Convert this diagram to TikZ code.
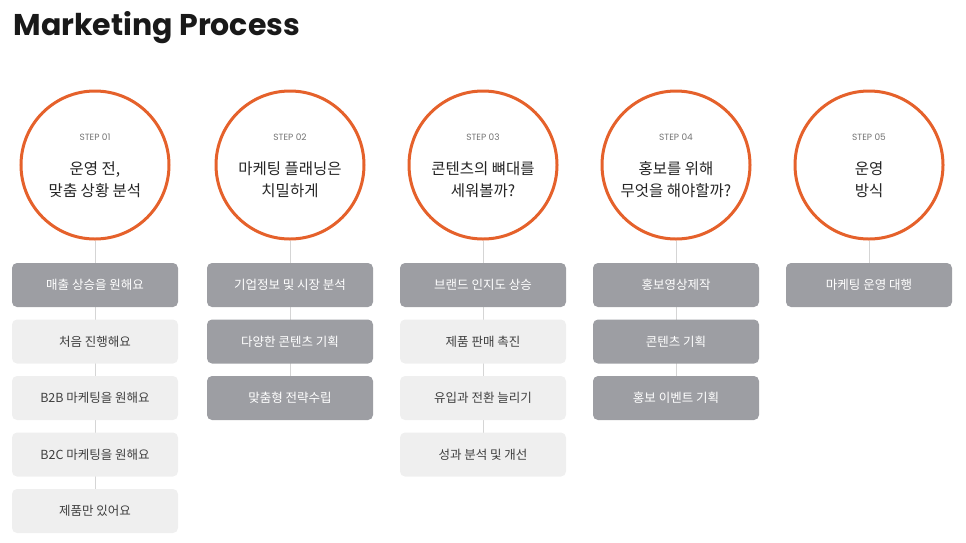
\documentclass[tikz,border=0pt]{standalone}
\usepackage{fontspec}
\setmainfont{Poppins}
\newfontfamily\kr{Noto Sans CJK KR}
\newfontfamily\krb{Noto Sans CJK KR Bold}
\definecolor{org}{HTML}{E5612B}
\definecolor{dk}{HTML}{9D9EA3}
\definecolor{lt}{HTML}{EFEFEF}
\definecolor{ln}{HTML}{D5D5D5}
\tikzset{
 x=1pt,y=-1pt,
 stepcirc/.style={circle,draw=org,line width=3pt,fill=white,minimum size=148pt,inner sep=0pt},
 dbox/.style={rectangle,rounded corners=5pt,fill=dk,minimum width=166pt,minimum height=44pt,text=white,font=\kr\fontsize{12.5}{14}\selectfont},
 lbox/.style={dbox,fill=lt,text=black!75},
 stp/.style={font=\fontsize{9}{10}\selectfont,text=black!55},
 ttl/.style={font=\kr\fontsize{15.5}{22}\selectfont,text=black!85,align=center},
 conn/.style={draw=ln,line width=0.8pt}
}
\begin{document}
\begin{tikzpicture}
\useasboundingbox (0,0) rectangle (966,542);
\node[anchor=west,font=\bfseries\fontsize{30}{34}\selectfont,text=black!90] (title) at (10,28) {Marketing Process};
\def\cols{95/01/{운영 전,\\맞춤 상황 분석}/1/{매출 상승을 원해요,처음 진행해요,B2B 마케팅을 원해요,B2C 마케팅을 원해요,제품만 있어요}/a,
290/02/{마케팅 플래닝은\\치밀하게}/3/{기업정보 및 시장 분석,다양한 콘텐츠 기획,맞춤형 전략수립}/b,
483/03/{콘텐츠의 뼈대를\\세워볼까?}/1/{브랜드 인지도 상승,제품 판매 촉진,유입과 전환 늘리기,성과 분석 및 개선}/c,
676/04/{홍보를 위해\\무엇을 해야할까?}/3/{홍보영상제작,콘텐츠 기획,홍보 이벤트 기획}/d,
869/05/{운영\\방식}/1/{마케팅 운영 대행}/e}
\foreach \x/\n/\t/\nd/\items/\id in \cols {
  \node[stepcirc] (c\id) at (\x,165) {};
  \node[stp] (s\id) at (\x,137) {STEP \n};
  \node[ttl] (t\id) at (\x,180) {\t};
  \foreach \it [count=\k] in \items {
    \ifnum\k>\nd \def\sty{lbox}\else\def\sty{dbox}\fi
  }
}
\foreach \x/\n/\t/\nd/\items/\id in \cols {
  \foreach \it [count=\k] in \items { \coordinate (e\id) at (\x,{285+56.5*(\k-1)}); }
  \begin{scope}[on background layer/.try]\end{scope}
  \draw[conn] (c\id.south) -- (e\id);
  \foreach \it [count=\k] in \items {
    \ifnum\k>\nd
      \node[lbox] (b\id\k) at (\x,{285+56.5*(\k-1)}) {\it};
    \else
      \node[dbox] (b\id\k) at (\x,{285+56.5*(\k-1)}) {\it};
    \fi
  }
}
\end{tikzpicture}
\end{document}
